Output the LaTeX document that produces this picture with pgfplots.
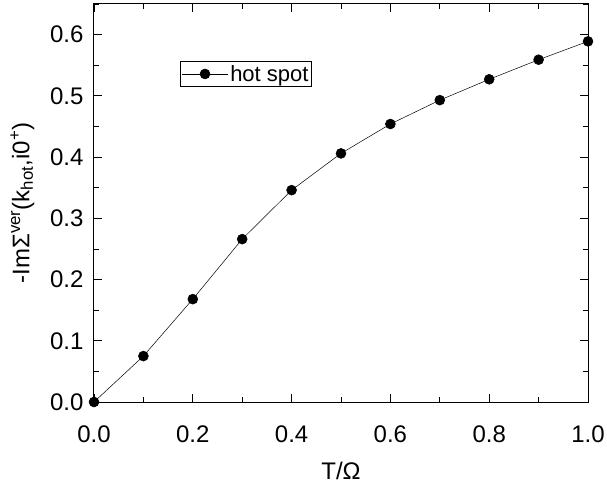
\documentclass[border=0pt]{standalone}
\usepackage{pgfplots}
\pgfplotsset{compat=1.18}
\usepackage{fontspec}
\setmainfont{Liberation Sans}
\begin{document}
\begin{tikzpicture}
\begin{axis}[
  scale only axis, width=494pt, height=398pt,
  xmin=0, xmax=1, ymin=0, ymax=0.65,
  xtick={0,0.2,...,1.0}, minor xtick={0.1,0.3,0.5,0.7,0.9},
  ytick={0,0.1,...,0.6}, minor ytick={0.05,0.15,...,0.65},
  tick align=inside, tick pos=both,
  major tick length=8pt, minor tick length=5pt,
  every tick/.style={black, line width=0.8pt},
  axis line style={line width=1pt},
  ticklabel style={font=\fontsize{24}{28}\selectfont},
  /pgf/number format/assume math mode=true,
  /pgf/number format/.cd, fixed, fixed zerofill, precision=1, /pgfplots/.cd,
  xticklabel style={yshift=-20pt},
  yticklabel style={xshift=-7pt},
  xlabel={T/Ω}, ylabel={-ImΣ\textsuperscript{ver}(k\textsubscript{hot},i0\textsuperscript{+})},
  label style={font=\fontsize{24}{28}\selectfont},
  xlabel style={yshift=-13pt},
  ylabel style={yshift=9pt},
  legend style={at={(axis cs:0.175,0.557)}, anchor=north west, draw=black, line width=0.6pt,
    font=\fontsize{22}{25}\selectfont, inner xsep=1pt, inner ysep=2pt, row sep=0pt, nodes={inner sep=2pt}},
  legend cell align=left,
  legend image code/.code={\draw[mark repeat=2,mark phase=2] plot coordinates {(0pt,0pt) (23pt,0pt) (46pt,0pt)};},
  clip=false,
]
\addplot[black, line width=0.5pt, mark=*, mark size=5pt, mark options={fill=black}]
  coordinates {(0,0) (0.1,0.075) (0.2,0.168) (0.3,0.266) (0.4,0.346) (0.5,0.406) (0.6,0.454) (0.7,0.493) (0.8,0.527) (0.9,0.559) (1.0,0.589)};
\addlegendentry{hot spot}
\end{axis}
\pgfresetboundingbox
\path ([shift={(-94pt,-85pt)}]current axis.south west) rectangle ([shift={(19pt,4pt)}]current axis.north east);
\end{tikzpicture}
\end{document}
